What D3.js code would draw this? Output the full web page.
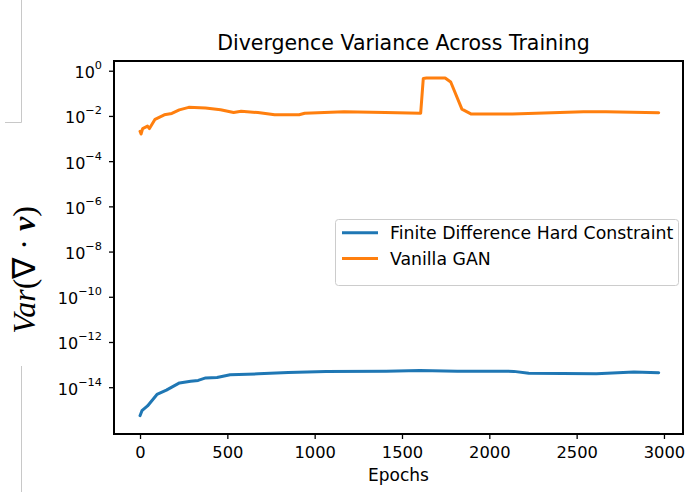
<!DOCTYPE html>
<html><head><meta charset="utf-8">
<script src="https://cdn.jsdelivr.net/npm/d3@7"></script>
<style>body{margin:0;background:#fff}svg{display:block}</style>
</head><body>
<svg id="c" width="688" height="492"></svg>
<script>
// Data (epoch, log10 variance)
const seriesNames = ["Finite Difference Hard Constraint", "Vanilla GAN"];
const seriesColors = ["#1f77b4", "#ff7f0e"];
const fdEpochs = [0,11,43,97,151,226,290,333,376,441,516,677,849,1065,1409,1602,1817,2140,2226,2613,2828,2970];
const fdLogVar = [-15.26,-15.04,-14.83,-14.32,-14.13,-13.81,-13.74,-13.70,-13.59,-13.57,-13.45,-13.41,-13.35,-13.30,-13.29,-13.26,-13.29,-13.30,-13.38,-13.41,-13.33,-13.36];
const ganEpochs = [0,6,15,43,54,86,139,182,225,279,375,461,536,579,675,771,911,943,1168,1404,1607,1622,1640,1747,1779,1843,1897,2132,2539,2668,2970];
const ganLogVar = [-2.68,-2.8,-2.56,-2.45,-2.56,-2.15,-1.95,-1.89,-1.73,-1.62,-1.65,-1.73,-1.85,-1.79,-1.85,-1.95,-1.95,-1.88,-1.82,-1.85,-1.88,-0.34,-0.32,-0.32,-0.50,-1.70,-1.92,-1.92,-1.82,-1.82,-1.86];
const xTicks = [0,500,1000,1500,2000,2500,3000];
const yTickExps = [0,-2,-4,-6,-8,-10,-12,-14];

const svg = d3.select("#c");
const L=114, R=683, T=61, B=434;
const x = d3.scaleLinear().domain([-149, 3109]).range([L, R]);
const y = d3.scaleLog().domain([Math.pow(10,-16.07), Math.pow(10,0.43)]).range([B, T]);
const font = "'DejaVu Sans', sans-serif";

// artifact lines at left
svg.append("path").attr("d","M21.5,0V122.5H5").attr("fill","none").attr("stroke","#c8c8c8").attr("stroke-width",1);
svg.append("path").attr("d","M21.5,366V492").attr("fill","none").attr("stroke","#c8c8c8").attr("stroke-width",1);

// lines
const line = d3.line().x(d=>x(d[0])).y(d=>y(Math.pow(10,d[1])));
const series = [d3.zip(fdEpochs, fdLogVar), d3.zip(ganEpochs, ganLogVar)];
const g = svg.append("g");
g.append("clipPath").attr("id","clip").append("rect").attr("x",L).attr("y",T).attr("width",R-L).attr("height",B-T);
series.forEach((s,i)=>{
  g.append("path").datum(s).attr("d",line).attr("fill","none")
   .attr("stroke",seriesColors[i]).attr("stroke-width",3).attr("stroke-linejoin","round").attr("stroke-linecap","round").attr("clip-path","url(#clip)");
});

// x axis
const xAxis = d3.axisBottom(x).tickValues(xTicks).tickSize(5).tickFormat(d3.format("d"));
const xg = svg.append("g").attr("transform",`translate(0,${B})`).call(xAxis);
xg.select(".domain").remove();
xg.selectAll(".tick line").attr("stroke","#000").attr("stroke-width",1.3);
xg.selectAll(".tick text").attr("font-family",font).attr("font-size",16.3).attr("fill","#000").attr("y",24).attr("dy",0);

// y axis
const yAxis = d3.axisLeft(y).tickValues(yTickExps.map(e=>Math.pow(10,e))).tickSize(5).tickFormat("");
const yg = svg.append("g").attr("transform",`translate(${L},0)`).call(yAxis);
yg.select(".domain").remove();
yg.selectAll(".tick line").attr("stroke","#000").attr("stroke-width",1.3);
yTickExps.forEach(e=>{
  const t = svg.append("text").attr("x",L-12).attr("y",y(Math.pow(10,e))+7.5)
    .attr("text-anchor","end").attr("font-family",font).attr("font-size",16).attr("fill","#000");
  t.append("tspan").text("10");
  t.append("tspan").attr("font-size",11.3).attr("dy",-9).text(e===0?"0":"\u2212"+(-e));
});

// frame
svg.append("rect").attr("x",L).attr("y",T).attr("width",R-L).attr("height",B-T)
  .attr("fill","none").attr("stroke","#000").attr("stroke-width",2);

// title & labels
svg.append("text").attr("x",(L+R)/2+5).attr("y",50).attr("text-anchor","middle")
  .attr("font-family",font).attr("font-size",20.5).attr("fill","#000").text("Divergence Variance Across Training");
svg.append("text").attr("x",(L+R)/2).attr("y",481).attr("text-anchor","middle")
  .attr("font-family",font).attr("font-size",17).attr("fill","#000").text("Epochs");
const yl = svg.append("text").attr("transform","translate(35,270) rotate(-90)").attr("text-anchor","middle")
  .attr("font-family","'Liberation Serif', serif").attr("font-size",32).attr("fill","#000");
yl.append("tspan").attr("font-style","italic").text("Var");
yl.append("tspan").text("(\u2207 \u00b7 ");
yl.append("tspan").attr("font-style","italic").attr("font-weight","bold").text("v");
yl.append("tspan").text(")");

// legend
const lg = svg.append("g");
lg.append("rect").attr("x",335.5).attr("y",219.5).attr("width",343).attr("height",66).attr("rx",3)
  .attr("fill","#fff").attr("fill-opacity",0.8).attr("stroke","#cccccc").attr("stroke-width",1);
seriesNames.forEach((n,i)=>{
  const yy = 232.7 + i*25.7;
  lg.append("line").attr("x1",342).attr("x2",378).attr("y1",yy).attr("y2",yy)
    .attr("stroke",seriesColors[i]).attr("stroke-width",3);
  lg.append("text").attr("x",390).attr("y",yy+6.5).attr("font-family",font).attr("font-size",17.3)
    .attr("fill","#000").text(n);
});
</script>
</body></html>
